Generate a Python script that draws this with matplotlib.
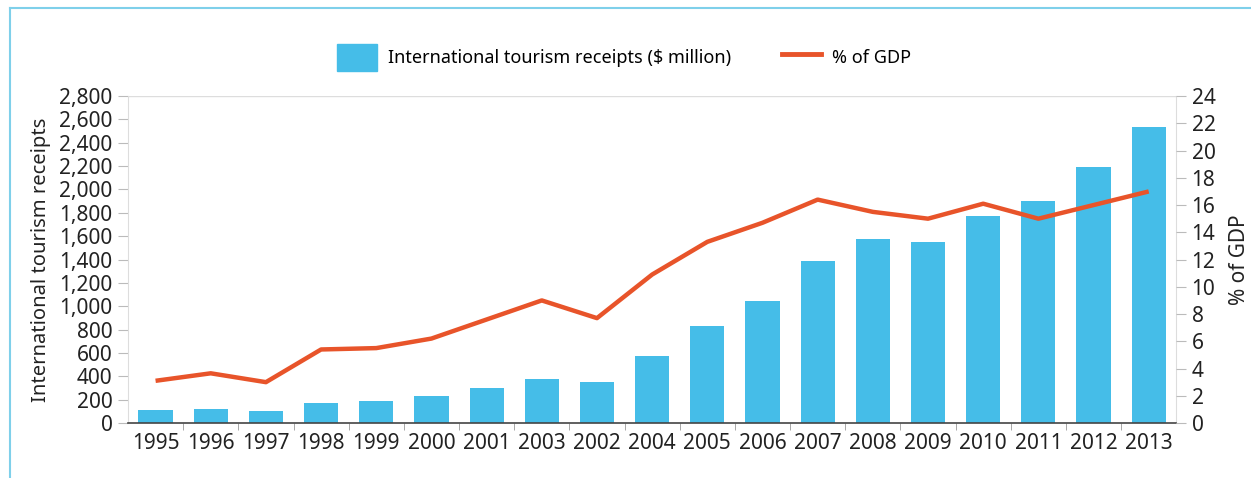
import matplotlib.pyplot as plt
import matplotlib.patches as mpatches
from matplotlib.lines import Line2D
from matplotlib.ticker import FuncFormatter
import numpy as np

# --- Datos ---
years = ['1995', '1996', '1997', '1998', '1999', '2000', '2001', '2003', '2002', '2004',
         '2005', '2006', '2007', '2008', '2009', '2010', '2011', '2012', '2013']
receipts = [110, 120, 100, 170, 190, 230, 300, 375, 350, 575,
            830, 1045, 1390, 1575, 1550, 1775, 1900, 2190, 2535]
gdp_pct = [3.1, 3.65, 3.0, 5.4, 5.5, 6.2, 7.6, 9.0, 7.7, 10.9,
           13.3, 14.7, 16.4, 15.5, 15.0, 16.1, 15.0, 16.0, 17.0]

bar_color = '#45BDE8'
line_color = '#E8542A'
text_color = '#222222'
plt.rcParams['font.family'] = ['Noto Sans', 'DejaVu Sans']

fig = plt.figure(figsize=(12.51, 4.78), dpi=100)
ax = fig.add_axes([0.1023, 0.115, 0.838, 0.684])
x = np.arange(len(years))

ax.bar(x, receipts, width=0.62, color=bar_color, zorder=2)
ax.set_xlim(-0.5, len(years) - 0.5)
ax.set_ylim(0, 2800)
ax.set_yticks(np.arange(0, 2801, 200))
ax.yaxis.set_major_formatter(FuncFormatter(lambda v, p: f'{int(v):,}'))
ax.set_xticks(x)
ax.set_xticklabels(years)
ax.set_xticks(np.arange(0.5, len(years) - 1, 1), minor=True)
ax.tick_params(axis='x', which='major', length=0, labelsize=15, colors=text_color, pad=7)
ax.tick_params(axis='x', which='minor', length=5, color='#999999', direction='out')
ax.tick_params(axis='y', length=7, color='#bbbbbb', labelsize=15, labelcolor=text_color, pad=4)
ax.axhline(2800, color='#dddddd', lw=1, zorder=1)
for s in ['left', 'right', 'top']:
    ax.spines[s].set_color('#dddddd')
ax.spines['top'].set_visible(False)
ax.spines['bottom'].set_color('#444444')
ax.spines['bottom'].set_linewidth(1.2)
ax.set_ylabel('International tourism receipts', fontsize=14.5, color=text_color, labelpad=6)

ax2 = ax.twinx()
ax2.plot(x, gdp_pct, color=line_color, lw=3.2, solid_capstyle='butt', zorder=3)
ax2.set_ylim(0, 24)
ax2.set_yticks(np.arange(0, 25, 2))
ax2.tick_params(axis='y', length=7, color='#bbbbbb', labelsize=15, labelcolor=text_color, pad=4)
for s in ['left', 'right', 'top', 'bottom']:
    ax2.spines[s].set_visible(False)
ax2.set_ylabel('% of GDP', fontsize=15, color=text_color, labelpad=10)

# Leyenda
handles = [mpatches.Patch(color=bar_color, label='International tourism receipts ($ million)'),
           Line2D([0], [0], color=line_color, lw=3.5, label='% of GDP')]
fig.legend(handles=handles, loc='center', bbox_to_anchor=(0.499, 0.88), ncol=2, frameon=False,
           fontsize=13, handlelength=2.2, handleheight=1.9, handletextpad=0.6, columnspacing=2.8)

# Marco azul
fig.add_artist(Line2D([0.008, 0.008], [0, 0.983], color='#7FD0EA', lw=1.5, transform=fig.transFigure))
fig.add_artist(Line2D([0.008, 1.0], [0.983, 0.983], color='#7FD0EA', lw=1.5, transform=fig.transFigure))

fig.savefig('out.png', dpi=100)
